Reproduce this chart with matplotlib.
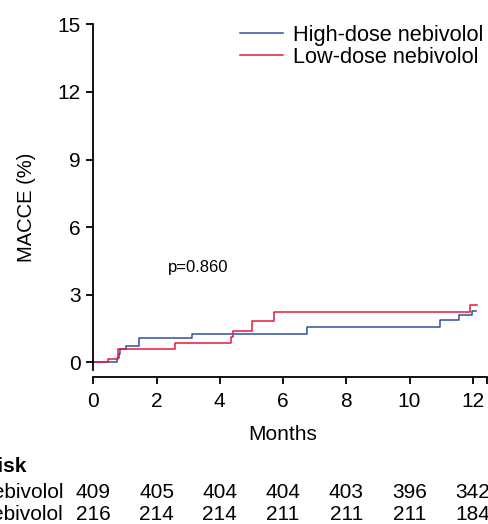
import matplotlib
matplotlib.use("Agg")
import matplotlib.pyplot as plt

plt.rcParams["font.family"] = ["Liberation Sans", "DejaVu Sans"]

# step curves: months of each step, cumulative MACCE (%)
high_months = [0, 0.76, 0.80, 0.84, 1.02, 1.45, 3.11, 6.75, 10.96, 11.56, 11.98, 12.1]
high_macce = [0, 0.18, 0.36, 0.59, 0.73, 1.07, 1.26, 1.58, 1.86, 2.08, 2.29, 2.29]
low_months = [0, 0.475, 0.79, 2.59, 4.35, 4.43, 5.03, 5.72, 11.91, 12.14]
low_macce = [0, 0.16, 0.59, 0.87, 1.14, 1.41, 1.84, 2.25, 2.54, 2.54]

risk_months = [0, 2, 4, 6, 8, 10, 12]
risk_high = [409, 405, 404, 404, 403, 396, 342]
risk_low = [216, 214, 214, 211, 211, 211, 184]
group_names = ["High-dose nebivolol", "Low-dose nebivolol"]
colors = ["#2E4FA3", "#E5173F"]

W, H = 488, 524
fig = plt.figure(figsize=(W / 100, H / 100), dpi=100)
x0, x1, y0, y1 = 93.3, 486.7, 23.3, 376.7
ax = fig.add_axes([x0 / W, 1 - y1 / H, (x1 - x0) / W, (y1 - y0) / H])

ax.step(high_months, high_macce, where="post", color=colors[0], lw=1.1, label=group_names[0])
ax.step(low_months, low_macce, where="post", color=colors[1], lw=1.1, label=group_names[1])

xmax = 12.44
ax.set_xlim(0, xmax)
ax.set_ylim(-0.64, 15.05)
ax.set_xticks(risk_months + [xmax], [str(m) for m in risk_months] + [""])
ax.set_yticks([0, 3, 6, 9, 12, 15])
for side in ["top", "right"]:
    ax.spines[side].set_visible(False)
ax.spines["left"].set_bounds(-0.33, 15)
for side in ["left", "bottom"]:
    ax.spines[side].set_linewidth(1.3)
ax.tick_params(axis="both", length=5, width=1.3, labelsize=15)
ax.tick_params(axis="x", pad=6)
ax.tick_params(axis="y", pad=4)

ax.text(3.31, 4.2, "p=0.860", fontsize=12, ha="center", va="center")

fig.text(283 / W, 1 - 434 / H, "Months", fontsize=15, ha="center", va="center")
fig.text(26 / W, 1 - 207 / H, "MACCE (%)", fontsize=14.5, rotation=90, ha="center", va="center")

leg = ax.legend(loc="upper left", bbox_to_anchor=(240 / W, 1 - 25 / H),
                bbox_transform=fig.transFigure, frameon=False, fontsize=15.7,
                handlelength=1.95, handletextpad=0.5, labelspacing=0.05,
                borderpad=0, borderaxespad=0)

# number at risk table
fig.text(26 / W, 1 - 467 / H, "Number at risk", fontsize=15, fontweight="bold", ha="right", va="center")
for row_y, name, counts in [(492, group_names[0], risk_high), (514, group_names[1], risk_low)]:
    fig.text(63 / W, 1 - row_y / H, name, fontsize=15, ha="right", va="center")
    for m, n in zip(risk_months, counts):
        fx = (x0 + m * (x1 - x0) / xmax) / W
        fig.text(fx, 1 - row_y / H, str(n), fontsize=15, ha="center", va="center")

fig.savefig("out.png", dpi=100)
